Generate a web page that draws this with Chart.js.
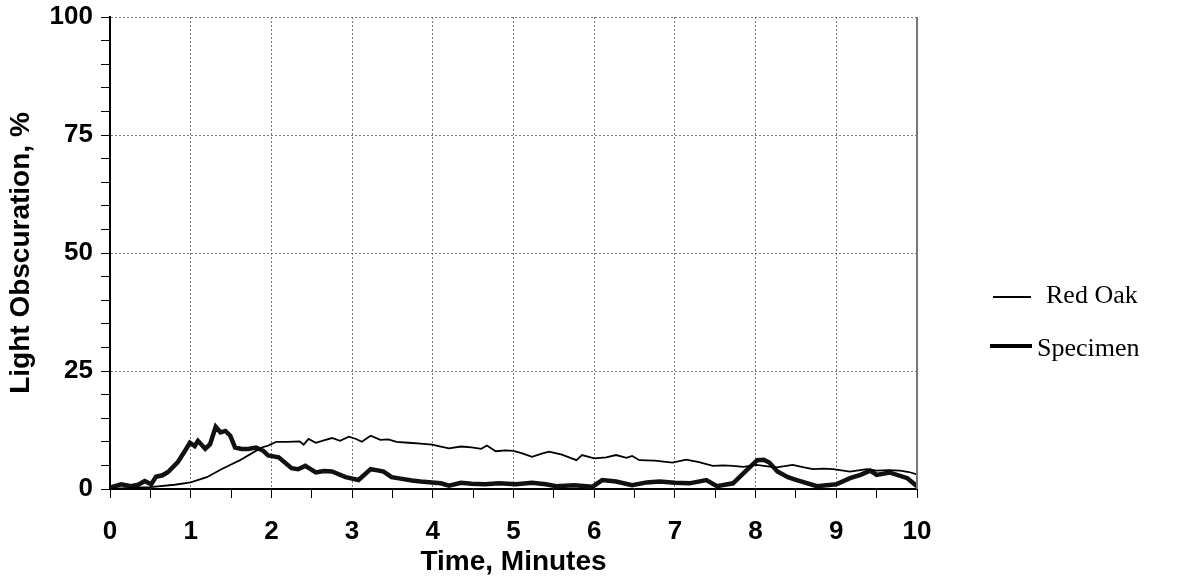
<!DOCTYPE html>
<html>
<head>
<meta charset="utf-8">
<script src="https://cdn.jsdelivr.net/npm/chart.js@4/dist/chart.umd.min.js"></script>
<style>
  html, body { margin: 0; padding: 0; background: #fff; }
  #wrap { width: 1179px; height: 579px; }
</style>
</head>
<body>
<div id="wrap"><canvas id="smokeChart"></canvas></div>
<script>
// Red Oak reference curve (time in minutes, obscuration %)
var redOakTime = [0, 0.2, 0.5, 0.8, 1.0, 1.2, 1.38, 1.5, 1.6, 1.75, 1.88, 1.96, 2.06, 2.2, 2.35, 2.4, 2.46, 2.55, 2.65, 2.75,
    2.85, 2.96, 3.05, 3.12, 3.23, 3.35, 3.45, 3.55, 3.7, 3.85, 3.99, 4.1, 4.2, 4.35, 4.48, 4.6, 4.67, 4.78, 4.9, 5.0,
    5.1, 5.23, 5.35, 5.44, 5.6, 5.78, 5.85, 6.0, 6.15, 6.27, 6.4, 6.47, 6.56, 6.75, 6.97, 7.14, 7.3, 7.47, 7.6, 7.72,
    7.85, 8.01, 8.15, 8.26, 8.46, 8.6, 8.71, 8.85, 8.96, 9.17, 9.38, 9.5, 9.65, 9.79, 9.9, 10.0];
var redOakValues = [0, 0.2, 0.4, 0.9, 1.4, 2.5, 4.2, 5.2, 6.0, 7.5, 8.8, 9.2, 10.0, 10.0, 10.1, 9.4, 10.6, 9.8, 10.3, 10.8,
    10.2, 11.1, 10.6, 10.0, 11.3, 10.4, 10.5, 10.0, 9.8, 9.6, 9.4, 9.0, 8.6, 9.0, 8.8, 8.5, 9.2, 8.0, 8.2, 8.1,
    7.6, 6.8, 7.5, 7.9, 7.3, 6.1, 7.2, 6.5, 6.7, 7.2, 6.6, 7.0, 6.1, 6.0, 5.6, 6.2, 5.7, 4.9, 5.0, 4.9,
    4.7, 5.1, 4.8, 4.6, 5.1, 4.6, 4.2, 4.3, 4.2, 3.7, 4.2, 3.9, 4.0, 3.9, 3.6, 3.1];

// Specimen curve
var specimenTime = [0, 0.14, 0.26, 0.35, 0.43, 0.51, 0.57, 0.65, 0.72, 0.84, 0.93, 0.99, 1.05, 1.09, 1.18, 1.24, 1.31, 1.37, 1.43, 1.49,
    1.55, 1.63, 1.71, 1.81, 1.9, 1.96, 2.09, 2.25, 2.33, 2.42, 2.55, 2.65, 2.75, 2.92, 3.08, 3.23, 3.3, 3.39, 3.49, 3.6,
    3.74, 3.85, 3.99, 4.1, 4.2, 4.35, 4.48, 4.65, 4.82, 5.03, 5.23, 5.4, 5.53, 5.75, 5.98, 6.1, 6.27, 6.47, 6.65, 6.81,
    7.0, 7.18, 7.39, 7.52, 7.72, 7.89, 8.02, 8.1, 8.17, 8.27, 8.4, 8.51, 8.76, 9.0, 9.17, 9.3, 9.42, 9.5, 9.66, 9.88, 10.0];
var specimenValues = [0.3, 1.0, 0.6, 0.9, 1.7, 1.0, 2.6, 2.9, 3.6, 5.7, 8.1, 9.8, 9.1, 10.2, 8.5, 9.5, 13.2, 12.0, 12.3, 11.3,
    8.8, 8.5, 8.5, 8.8, 8.1, 7.1, 6.7, 4.4, 4.2, 4.9, 3.5, 3.8, 3.7, 2.5, 1.9, 4.2, 4.0, 3.7, 2.5, 2.2,
    1.8, 1.6, 1.4, 1.2, 0.7, 1.3, 1.1, 1.0, 1.2, 1.0, 1.3, 1.0, 0.6, 0.8, 0.5, 1.9, 1.6, 0.8, 1.4, 1.6,
    1.3, 1.2, 1.9, 0.6, 1.2, 4.0, 6.1, 6.2, 5.6, 3.7, 2.5, 1.9, 0.6, 1.0, 2.3, 3.0, 3.9, 3.0, 3.5, 2.3, 0.6];

var seriesNames = ['Red Oak', 'Specimen'];
var xMajorTicks = [0, 1, 2, 3, 4, 5, 6, 7, 8, 9, 10];
var yMajorTicks = [0, 25, 50, 75, 100];

function toPoints(xs, ys) {
    return xs.map(function (x, i) { return { x: x, y: ys[i] }; });
}

// draws the right-hand border and the legend like the original
var extrasPlugin = {
    id: 'extras',
    afterDraw: function (chart) {
        var ctx = chart.ctx;
        var area = chart.chartArea;
        ctx.save();
        ctx.strokeStyle = '#777';
        ctx.lineWidth = 2;
        ctx.beginPath();
        ctx.moveTo(area.right, area.top);
        ctx.lineTo(area.right, area.bottom);
        ctx.stroke();

        // legend
        ctx.fillStyle = '#000';
        ctx.strokeStyle = '#000';
        ctx.font = '26px "Liberation Serif"';
        ctx.textBaseline = 'middle';
        ctx.lineWidth = 1.8;
        ctx.beginPath();
        ctx.moveTo(993, 297);
        ctx.lineTo(1031, 297);
        ctx.stroke();
        ctx.fillText(seriesNames[0], 1046, 296);
        ctx.lineWidth = 4;
        ctx.beginPath();
        ctx.moveTo(990, 346);
        ctx.lineTo(1032, 346);
        ctx.stroke();
        ctx.fillText(seriesNames[1], 1037, 349);
        ctx.restore();
    }
};

var fontFamily = '"Liberation Sans", Arial, sans-serif';
var tickFont = { family: fontFamily, size: 26, weight: 'bold' };
var titleFont = { family: fontFamily, size: 28, weight: 'bold' };

var ctx = document.getElementById('smokeChart').getContext('2d');
var smokeChart = new Chart(ctx, {
    type: 'line',
    data: {
        datasets: [{
            label: seriesNames[0],
            data: toPoints(redOakTime, redOakValues),
            borderColor: '#000',
            borderWidth: 1.8,
            pointRadius: 0,
            tension: 0
        }, {
            label: seriesNames[1],
            data: toPoints(specimenTime, specimenValues),
            borderColor: '#111',
            borderWidth: 4.5,
            pointRadius: 0,
            tension: 0
        }]
    },
    options: {
        responsive: true,
        maintainAspectRatio: false,
        animation: false,
        layout: { padding: { top: 17, right: 262, left: 0, bottom: 0 } },
        plugins: {
            legend: { display: false },
            tooltip: { enabled: false }
        },
        scales: {
            x: {
                type: 'linear',
                min: 0,
                max: 10,
                afterFit: function (scale) { scale.height = 90; },
                ticks: {
                    stepSize: 0.5,
                    autoSkip: false,
                    maxRotation: 0,
                    color: '#000',
                    font: tickFont,
                    padding: 18,
                    callback: function (v) { return xMajorTicks.indexOf(v) >= 0 ? String(v) : ''; }
                },
                grid: {
                    color: function (c) {
                        var v = c.tick ? c.tick.value : null;
                        return (v !== null && Number.isInteger(v) && v > 0 && v < 10) ? '#777' : 'rgba(0,0,0,0)';
                    },
                    tickColor: '#000',
                    tickLength: 9,
                    lineWidth: 1
                },
                border: { color: '#000', width: 2, dash: [2, 2] },
                title: {
                    display: true,
                    text: 'Time, Minutes',
                    color: '#000',
                    font: titleFont,
                    padding: { top: 0, bottom: 0 }
                }
            },
            y: {
                min: 0,
                max: 100,
                afterFit: function (scale) {
                    scale.width = 110;
                    scale.paddingTop = 0; // let the "100" label overhang the top padding
                },
                ticks: {
                    stepSize: 5,
                    autoSkip: false,
                    color: '#000',
                    font: tickFont,
                    padding: 8,
                    callback: function (v) { return yMajorTicks.indexOf(v) >= 0 ? String(v) : ''; }
                },
                grid: {
                    color: function (c) {
                        var v = c.tick ? c.tick.value : null;
                        return (v !== null && v > 0 && v % 25 === 0) ? '#777' : 'rgba(0,0,0,0)';
                    },
                    tickColor: '#000',
                    tickLength: 9,
                    lineWidth: 1
                },
                border: { color: '#000', width: 2, dash: [2, 2] },
                title: {
                    display: true,
                    text: 'Light Obscuration, %',
                    color: '#000',
                    font: titleFont,
                    padding: { top: 4, bottom: 0 }
                }
            }
        }
    },
    plugins: [extrasPlugin]
});
</script>
</body>
</html>
